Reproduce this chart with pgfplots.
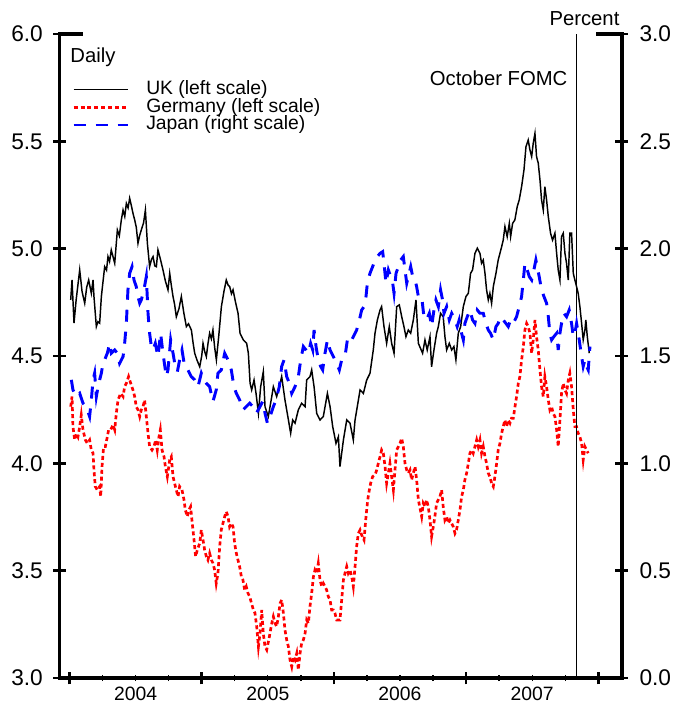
\documentclass[border=0pt]{standalone}
\usepackage{fontspec}
\setmainfont{Liberation Sans}
\usepackage{pgfplots}
\pgfplotsset{compat=1.18}

\definecolor{ukcol}{RGB}{0,0,0}
\definecolor{decol}{RGB}{255,0,0}
\definecolor{jpcol}{RGB}{0,0,255}

\begin{document}
\begin{tikzpicture}
\pgfplotsset{
  common/.style={
    at={(0pt,0pt)}, anchor=south west,
    scale only axis, width=421.65pt, height=483pt,
    xmin=2003.924, xmax=2008.177,
    enlargelimits=false, clip=false,
    tick align=inside,
    major tick length=9.5pt, minor tick length=4.8pt,
    /pgf/number format/assume math mode=true,
    yticklabel style={font=\fontsize{17}{19}\selectfont, inner sep=0pt,
      /pgf/number format/fixed, /pgf/number format/fixed zerofill, /pgf/number format/precision=1},
  },
  thickaxis/.style={
    axis line style={-, line width=2.8pt, line cap=rect},
    every outer x axis line/.append style={-, line width=2.8pt, line cap=rect},
    every outer y axis line/.append style={-, line width=2.8pt, line cap=rect},
    every major tick/.append style={black, line width=2pt},
    every minor tick/.append style={black, line width=1pt},
  },
}

\begin{axis}[common,
  ymin=3, ymax=6,
  axis x line=bottom, axis y line=left,
  thickaxis,
  xtick={2004,2005,2006,2007,2008}, xticklabels={},
  minor x tick num=3,
  extra x ticks={2004.5,2005.5,2006.5,2007.5},
  extra x tick labels={2004,2005,2006,2007},
  extra x tick style={major tick length=0pt,
     xticklabel style={font=\fontsize{14.5}{16}\selectfont, inner sep=0pt, anchor=north, yshift=-6.75pt}},
  ytick={3,3.5,4,4.5,5,5.5,6},
  yticklabel style={anchor=east, xshift=-7.6pt},
  legend style={at={(axis description cs:0,1)}, anchor=north west,
     xshift=9.5pt, yshift=-35pt, draw=none, fill=none,
     inner sep=0pt, outer sep=0pt, row sep=0pt,
     font=\fontsize{14.5}{15}\selectfont,
     nodes={inner sep=0pt, text height=10.3pt, text depth=3pt}},
  legend cell align=left,
  legend image code/.code={\draw[#1] (0pt,0pt) -- (41pt,0pt); \path[draw=none, fill=none] (54.5pt,-0.1pt) -- (54.5pt,0.1pt);},
]
\addplot[ukcol, line width=1.1pt] coordinates {
(2004.009,4.761)(2004.019,4.854)(2004.034,4.653)(2004.050,4.760)(2004.077,4.901)(2004.095,4.800)(2004.115,4.746)(2004.130,4.820)(2004.145,4.854)(2004.165,4.792)(2004.178,4.854)(2004.185,4.777)(2004.203,4.637)(2004.215,4.660)(2004.228,4.653)(2004.241,4.777)(2004.266,4.916)(2004.280,4.900)(2004.291,4.963)(2004.303,4.940)(2004.316,4.994)(2004.330,4.960)(2004.342,4.932)(2004.362,5.087)(2004.377,5.060)(2004.392,5.134)(2004.405,5.180)(2004.418,5.150)(2004.430,5.211)(2004.443,5.190)(2004.455,5.235)(2004.468,5.200)(2004.480,5.165)(2004.493,5.134)(2004.505,5.100)(2004.518,5.025)(2004.530,5.060)(2004.543,5.087)(2004.560,5.120)(2004.574,5.180)(2004.589,5.025)(2004.606,4.916)(2004.620,4.950)(2004.632,4.963)(2004.645,4.920)(2004.657,4.916)(2004.669,4.994)(2004.688,4.950)(2004.707,4.901)(2004.725,4.850)(2004.745,4.808)(2004.758,4.885)(2004.770,4.830)(2004.783,4.777)(2004.795,4.740)(2004.808,4.683)(2004.828,4.720)(2004.846,4.777)(2004.865,4.700)(2004.884,4.637)(2004.900,4.650)(2004.922,4.621)(2004.935,4.560)(2004.947,4.513)(2004.965,4.480)(2004.985,4.450)(2005.000,4.500)(2005.010,4.559)(2005.023,4.520)(2005.035,4.497)(2005.048,4.560)(2005.060,4.606)(2005.073,4.580)(2005.085,4.621)(2005.098,4.540)(2005.111,4.482)(2005.130,4.600)(2005.149,4.730)(2005.168,4.800)(2005.186,4.854)(2005.200,4.830)(2005.212,4.823)(2005.225,4.790)(2005.237,4.808)(2005.256,4.750)(2005.275,4.699)(2005.290,4.606)(2005.315,4.575)(2005.340,4.559)(2005.353,4.513)(2005.366,4.373)(2005.378,4.342)(2005.396,4.388)(2005.411,4.326)(2005.429,4.233)(2005.446,4.357)(2005.466,4.427)(2005.479,4.264)(2005.504,4.218)(2005.530,4.311)(2005.542,4.357)(2005.567,4.311)(2005.587,4.357)(2005.605,4.404)(2005.630,4.295)(2005.656,4.202)(2005.673,4.140)(2005.688,4.202)(2005.706,4.187)(2005.731,4.249)(2005.756,4.280)(2005.782,4.264)(2005.794,4.388)(2005.819,4.404)(2005.832,4.435)(2005.850,4.357)(2005.870,4.233)(2005.895,4.202)(2005.920,4.218)(2005.951,4.326)(2005.971,4.264)(2005.991,4.171)(2006.016,4.093)(2006.034,4.124)(2006.046,3.985)(2006.072,4.109)(2006.097,4.202)(2006.122,4.187)(2006.147,4.109)(2006.160,4.202)(2006.177,4.264)(2006.198,4.342)(2006.223,4.326)(2006.248,4.388)(2006.273,4.419)(2006.298,4.528)(2006.311,4.606)(2006.329,4.668)(2006.349,4.714)(2006.361,4.730)(2006.379,4.637)(2006.399,4.559)(2006.419,4.637)(2006.437,4.559)(2006.455,4.513)(2006.475,4.730)(2006.495,4.738)(2006.513,4.683)(2006.530,4.637)(2006.545,4.590)(2006.563,4.621)(2006.581,4.606)(2006.601,4.668)(2006.621,4.761)(2006.639,4.559)(2006.671,4.513)(2006.689,4.575)(2006.706,4.528)(2006.727,4.590)(2006.739,4.450)(2006.757,4.528)(2006.777,4.606)(2006.790,4.637)(2006.807,4.699)(2006.827,4.683)(2006.840,4.590)(2006.853,4.528)(2006.873,4.559)(2006.891,4.528)(2006.908,4.544)(2006.923,4.482)(2006.941,4.606)(2006.959,4.637)(2006.979,4.730)(2006.999,4.777)(2007.017,4.792)(2007.034,4.885)(2007.049,4.901)(2007.067,4.978)(2007.085,5.002)(2007.105,4.978)(2007.117,4.932)(2007.130,4.947)(2007.143,4.885)(2007.155,4.808)(2007.168,4.761)(2007.180,4.792)(2007.193,4.745)(2007.206,4.823)(2007.226,4.885)(2007.243,4.947)(2007.256,4.978)(2007.269,5.009)(2007.281,5.040)(2007.294,5.103)(2007.311,5.056)(2007.327,5.118)(2007.337,5.056)(2007.352,5.118)(2007.369,5.134)(2007.387,5.196)(2007.402,5.227)(2007.420,5.289)(2007.438,5.367)(2007.453,5.475)(2007.470,5.506)(2007.483,5.460)(2007.496,5.429)(2007.508,5.491)(2007.521,5.537)(2007.533,5.429)(2007.546,5.398)(2007.559,5.320)(2007.571,5.227)(2007.584,5.180)(2007.596,5.289)(2007.609,5.227)(2007.622,5.149)(2007.639,5.072)(2007.654,5.040)(2007.672,5.072)(2007.685,4.978)(2007.697,4.901)(2007.710,4.854)(2007.722,5.056)(2007.735,5.072)(2007.748,4.978)(2007.760,4.932)(2007.773,4.854)(2007.785,5.072)(2007.798,5.072)(2007.811,4.885)(2007.823,4.854)(2007.836,4.823)(2007.848,4.792)(2007.861,4.730)(2007.874,4.652)(2007.886,4.575)(2007.899,4.621)(2007.906,4.668)(2007.917,4.590)(2007.932,4.513)
};
\addlegendentry{UK (left scale)}
\addplot[decol, line width=2pt, dash pattern=on 3pt off 2.2pt] coordinates {
(2004.009,4.264)(2004.019,4.311)(2004.026,4.171)(2004.039,4.109)(2004.052,4.140)(2004.064,4.124)(2004.077,4.171)(2004.089,4.225)(2004.102,4.156)(2004.120,4.109)(2004.135,4.093)(2004.152,4.109)(2004.165,4.062)(2004.178,4.047)(2004.185,3.969)(2004.195,3.892)(2004.210,3.876)(2004.228,3.892)(2004.236,3.845)(2004.246,3.985)(2004.258,4.078)(2004.271,4.078)(2004.286,4.124)(2004.296,4.156)(2004.311,4.156)(2004.329,4.179)(2004.342,4.156)(2004.354,4.233)(2004.367,4.295)(2004.387,4.326)(2004.405,4.311)(2004.417,4.357)(2004.430,4.373)(2004.447,4.404)(2004.463,4.373)(2004.480,4.342)(2004.493,4.311)(2004.505,4.264)(2004.518,4.249)(2004.531,4.218)(2004.543,4.249)(2004.556,4.264)(2004.568,4.295)(2004.581,4.218)(2004.594,4.140)(2004.606,4.078)(2004.624,4.062)(2004.639,4.078)(2004.652,4.109)(2004.664,4.062)(2004.677,4.124)(2004.687,4.156)(2004.700,4.062)(2004.715,4.031)(2004.725,3.985)(2004.740,3.938)(2004.758,4.016)(2004.770,4.031)(2004.783,3.938)(2004.795,3.907)(2004.808,3.876)(2004.821,3.845)(2004.833,3.892)(2004.851,3.876)(2004.866,3.830)(2004.876,3.783)(2004.891,3.752)(2004.904,3.783)(2004.916,3.798)(2004.926,3.736)(2004.942,3.643)(2004.954,3.566)(2004.967,3.597)(2004.985,3.628)(2004.997,3.690)(2005.010,3.643)(2005.022,3.597)(2005.035,3.566)(2005.047,3.550)(2005.060,3.581)(2005.073,3.550)(2005.085,3.535)(2005.098,3.503)(2005.110,3.441)(2005.123,3.488)(2005.136,3.612)(2005.148,3.690)(2005.161,3.721)(2005.174,3.752)(2005.186,3.775)(2005.199,3.752)(2005.211,3.705)(2005.224,3.721)(2005.237,3.705)(2005.249,3.628)(2005.262,3.581)(2005.274,3.550)(2005.287,3.519)(2005.300,3.472)(2005.312,3.457)(2005.325,3.410)(2005.337,3.426)(2005.350,3.395)(2005.363,3.379)(2005.391,3.317)(2005.403,3.302)(2005.416,3.240)(2005.429,3.146)(2005.441,3.208)(2005.454,3.317)(2005.466,3.208)(2005.479,3.146)(2005.492,3.131)(2005.512,3.193)(2005.530,3.255)(2005.542,3.286)(2005.555,3.255)(2005.567,3.240)(2005.580,3.286)(2005.593,3.348)(2005.605,3.364)(2005.618,3.302)(2005.630,3.224)(2005.643,3.177)(2005.656,3.146)(2005.668,3.084)(2005.681,3.053)(2005.693,3.100)(2005.706,3.084)(2005.719,3.115)(2005.731,3.038)(2005.744,3.115)(2005.756,3.162)(2005.769,3.177)(2005.782,3.208)(2005.794,3.270)(2005.807,3.255)(2005.819,3.333)(2005.832,3.395)(2005.845,3.472)(2005.857,3.503)(2005.870,3.488)(2005.882,3.534)(2005.895,3.457)(2005.908,3.426)(2005.920,3.441)(2005.933,3.426)(2005.945,3.410)(2005.958,3.379)(2005.971,3.364)(2005.983,3.317)(2005.996,3.317)(2006.008,3.302)(2006.021,3.270)(2006.034,3.270)(2006.046,3.270)(2006.059,3.364)(2006.072,3.457)(2006.084,3.488)(2006.097,3.519)(2006.109,3.488)(2006.122,3.503)(2006.135,3.472)(2006.147,3.426)(2006.160,3.519)(2006.172,3.612)(2006.185,3.674)(2006.198,3.690)(2006.210,3.666)(2006.228,3.643)(2006.243,3.752)(2006.256,3.830)(2006.268,3.876)(2006.278,3.907)(2006.293,3.938)(2006.311,3.946)(2006.324,3.969)(2006.336,4.000)(2006.349,4.031)(2006.361,4.062)(2006.374,4.047)(2006.387,3.985)(2006.399,3.907)(2006.412,3.954)(2006.424,4.000)(2006.437,3.938)(2006.450,3.876)(2006.462,3.969)(2006.475,4.062)(2006.488,4.078)(2006.500,4.093)(2006.513,4.117)(2006.525,4.078)(2006.538,4.000)(2006.551,3.969)(2006.563,3.954)(2006.576,3.969)(2006.588,3.923)(2006.601,3.954)(2006.614,3.985)(2006.626,3.923)(2006.639,3.830)(2006.664,3.752)(2006.676,3.814)(2006.689,3.798)(2006.701,3.830)(2006.714,3.798)(2006.727,3.736)(2006.739,3.659)(2006.752,3.705)(2006.764,3.752)(2006.777,3.814)(2006.790,3.830)(2006.802,3.845)(2006.815,3.876)(2006.827,3.798)(2006.840,3.736)(2006.853,3.752)(2006.865,3.721)(2006.878,3.736)(2006.890,3.721)(2006.903,3.705)(2006.916,3.674)(2006.928,3.690)(2006.941,3.736)(2006.954,3.783)(2006.966,3.845)(2006.979,3.876)(2006.991,3.923)(2007.004,3.954)(2007.017,4.000)(2007.029,4.047)(2007.042,4.062)(2007.054,4.047)(2007.067,4.078)(2007.080,4.109)(2007.092,4.078)(2007.105,4.109)(2007.117,4.047)(2007.130,4.078)(2007.143,4.031)(2007.155,4.000)(2007.168,3.954)(2007.180,3.938)(2007.193,3.907)(2007.206,3.892)(2007.218,3.938)(2007.231,4.000)(2007.243,4.062)(2007.256,4.093)(2007.269,4.140)(2007.281,4.171)(2007.294,4.202)(2007.306,4.171)(2007.319,4.202)(2007.332,4.187)(2007.344,4.210)(2007.357,4.210)(2007.370,4.264)(2007.382,4.311)(2007.395,4.373)(2007.407,4.404)(2007.420,4.482)(2007.433,4.544)(2007.445,4.621)(2007.458,4.652)(2007.470,4.637)(2007.483,4.606)(2007.496,4.513)(2007.508,4.575)(2007.521,4.668)(2007.533,4.590)(2007.546,4.528)(2007.559,4.435)(2007.571,4.357)(2007.584,4.311)(2007.596,4.404)(2007.609,4.357)(2007.622,4.295)(2007.634,4.249)(2007.647,4.264)(2007.659,4.233)(2007.672,4.218)(2007.685,4.156)(2007.697,4.078)(2007.710,4.202)(2007.722,4.326)(2007.735,4.373)(2007.748,4.342)(2007.760,4.326)(2007.773,4.388)(2007.785,4.420)(2007.798,4.357)(2007.811,4.249)(2007.823,4.171)(2007.836,4.171)(2007.848,4.140)(2007.861,4.124)(2007.874,4.093)(2007.886,4.016)(2007.899,4.078)(2007.912,4.062)(2007.924,4.047)
};
\addlegendentry{Germany (left scale)}
\addlegendimage{jpcol, line width=2.2pt, dash pattern=on 9pt off 7.5pt}
\addlegendentry{Japan (right scale)}
% October FOMC marker
\addplot[black, line width=0.8pt, forget plot] coordinates {(2007.836,3) (2007.836,6)};
\node[anchor=base east, inner sep=0pt, font=\fontsize{15.2}{17}\selectfont]
  at ([xshift=-6.75pt,yshift=-38.25pt]axis cs:2007.836,6) {October FOMC};
\node[anchor=base west, inner sep=0pt, font=\fontsize{15.2}{17}\selectfont]
  at ([xshift=8pt,yshift=-21.25pt]rel axis cs:0,1) {Daily};
\node[anchor=base east, inner sep=0pt, font=\fontsize{15.2}{17}\selectfont]
  at ([xshift=-1.5pt,yshift=6.2pt]rel axis cs:1,1) {Percent};
\draw[line width=2.8pt, line cap=rect] (rel axis cs:0,1) -- ([xshift=16.5pt]rel axis cs:0,1);
\draw[line width=2.8pt, line cap=rect] (rel axis cs:1,1) -- ([xshift=-18pt]rel axis cs:1,1);
% picture bounds
\path (-44.6pt,-24.75pt) rectangle (460.1pt,508.5pt);
\end{axis}

\begin{axis}[common,
  ymin=0, ymax=3,
  axis x line=none, axis y line=right,
  thickaxis,
  ytick={0,0.5,1,1.5,2,2.5,3},
  yticklabel style={anchor=west, xshift=8.5pt},
]
\addplot[jpcol, line width=2.2pt, dash pattern=on 9pt off 7.5pt] coordinates {
(2004.014,1.389)(2004.026,1.342)(2004.052,1.311)(2004.077,1.326)(2004.102,1.280)(2004.127,1.264)(2004.152,1.218)(2004.165,1.295)(2004.178,1.389)(2004.190,1.420)(2004.203,1.311)(2004.216,1.357)(2004.228,1.389)(2004.241,1.420)(2004.253,1.466)(2004.266,1.482)(2004.286,1.513)(2004.304,1.559)(2004.316,1.513)(2004.342,1.528)(2004.362,1.513)(2004.379,1.466)(2004.405,1.497)(2004.417,1.559)(2004.430,1.652)(2004.442,1.808)(2004.455,1.885)(2004.473,1.916)(2004.488,1.854)(2004.505,1.823)(2004.518,1.777)(2004.531,1.746)(2004.543,1.761)(2004.563,1.808)(2004.581,1.870)(2004.594,1.699)(2004.606,1.606)(2004.619,1.544)(2004.631,1.528)(2004.649,1.559)(2004.669,1.497)(2004.689,1.606)(2004.707,1.513)(2004.732,1.404)(2004.745,1.435)(2004.765,1.575)(2004.783,1.513)(2004.800,1.451)(2004.816,1.427)(2004.833,1.482)(2004.851,1.528)(2004.871,1.451)(2004.896,1.435)(2004.921,1.404)(2004.947,1.389)(2004.972,1.357)(2004.997,1.420)(2005.017,1.389)(2005.035,1.373)(2005.060,1.357)(2005.085,1.288)(2005.110,1.342)(2005.123,1.420)(2005.148,1.435)(2005.174,1.513)(2005.199,1.482)(2005.224,1.435)(2005.244,1.357)(2005.262,1.326)(2005.287,1.295)(2005.312,1.249)(2005.337,1.264)(2005.363,1.280)(2005.388,1.264)(2005.413,1.233)(2005.441,1.264)(2005.461,1.288)(2005.479,1.233)(2005.497,1.187)(2005.517,1.218)(2005.542,1.264)(2005.562,1.295)(2005.587,1.357)(2005.605,1.451)(2005.623,1.482)(2005.643,1.404)(2005.663,1.373)(2005.681,1.326)(2005.706,1.357)(2005.731,1.404)(2005.749,1.482)(2005.769,1.544)(2005.789,1.528)(2005.807,1.513)(2005.824,1.559)(2005.840,1.528)(2005.850,1.621)(2005.865,1.544)(2005.882,1.482)(2005.900,1.451)(2005.915,1.435)(2005.933,1.513)(2005.951,1.575)(2005.971,1.528)(2005.996,1.497)(2006.021,1.466)(2006.041,1.435)(2006.059,1.482)(2006.084,1.497)(2006.102,1.575)(2006.122,1.559)(2006.147,1.590)(2006.172,1.621)(2006.193,1.668)(2006.210,1.714)(2006.228,1.730)(2006.243,1.777)(2006.253,1.839)(2006.273,1.885)(2006.293,1.916)(2006.311,1.947)(2006.329,1.963)(2006.349,1.978)(2006.369,1.986)(2006.379,1.932)(2006.394,1.839)(2006.412,1.901)(2006.430,1.870)(2006.445,1.839)(2006.455,1.792)(2006.470,1.885)(2006.488,1.916)(2006.505,1.947)(2006.525,1.963)(2006.538,1.901)(2006.551,1.839)(2006.563,1.870)(2006.581,1.916)(2006.596,1.870)(2006.614,1.854)(2006.626,1.823)(2006.639,1.777)(2006.664,1.777)(2006.681,1.683)(2006.701,1.668)(2006.722,1.699)(2006.739,1.637)(2006.757,1.714)(2006.772,1.761)(2006.790,1.730)(2006.807,1.808)(2006.822,1.761)(2006.833,1.699)(2006.853,1.730)(2006.873,1.668)(2006.891,1.699)(2006.916,1.668)(2006.933,1.637)(2006.948,1.668)(2006.966,1.606)(2006.979,1.575)(2006.991,1.652)(2007.009,1.683)(2007.029,1.714)(2007.049,1.668)(2007.067,1.652)(2007.085,1.714)(2007.105,1.699)(2007.130,1.699)(2007.150,1.652)(2007.168,1.621)(2007.185,1.606)(2007.206,1.575)(2007.226,1.637)(2007.243,1.652)(2007.261,1.683)(2007.281,1.668)(2007.301,1.652)(2007.319,1.637)(2007.337,1.668)(2007.357,1.652)(2007.382,1.683)(2007.402,1.730)(2007.420,1.777)(2007.433,1.854)(2007.445,1.932)(2007.463,1.901)(2007.478,1.870)(2007.496,1.854)(2007.513,1.901)(2007.528,1.947)(2007.538,1.916)(2007.553,1.870)(2007.571,1.808)(2007.589,1.777)(2007.609,1.746)(2007.622,1.683)(2007.634,1.606)(2007.647,1.575)(2007.664,1.590)(2007.685,1.606)(2007.697,1.528)(2007.710,1.606)(2007.722,1.652)(2007.740,1.699)(2007.760,1.683)(2007.780,1.714)(2007.798,1.652)(2007.811,1.590)(2007.823,1.606)(2007.836,1.652)(2007.856,1.575)(2007.874,1.497)(2007.886,1.451)(2007.899,1.482)(2007.912,1.451)(2007.924,1.435)(2007.937,1.544)
};
\end{axis}
\end{tikzpicture}
\end{document}
